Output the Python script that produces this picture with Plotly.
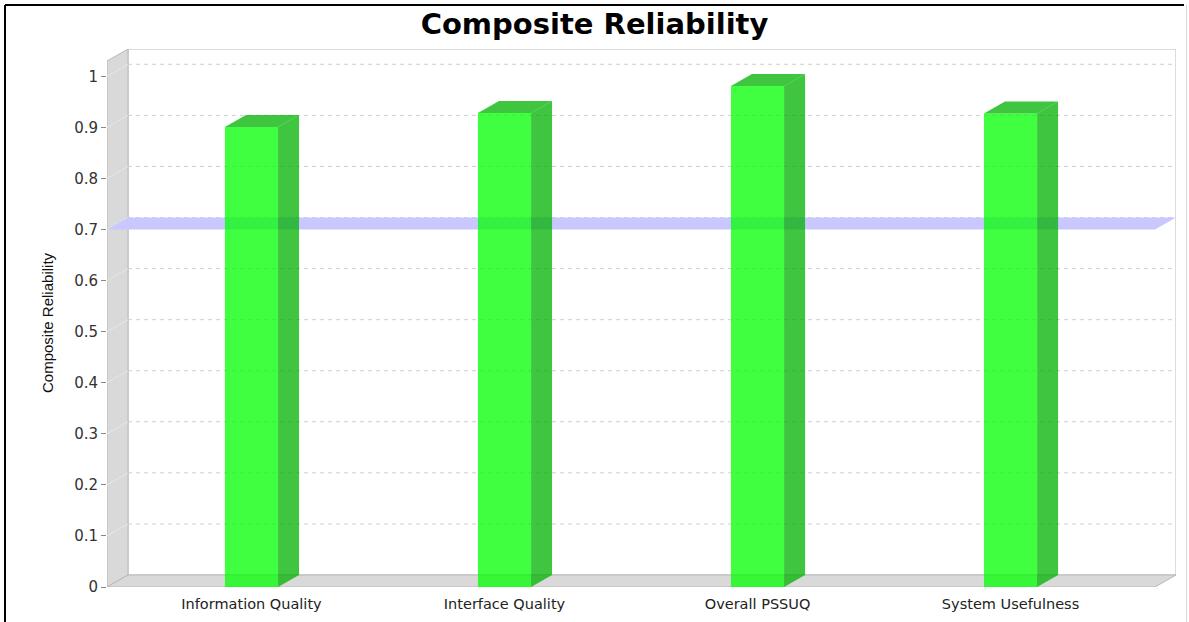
import plotly.graph_objects as go

# ---- data -------------------------------------------------------------
categories = ["Information Quality", "Interface Quality", "Overall PSSUQ", "System Usefulness"]
reliability = [0.901, 0.928, 0.981, 0.927]
threshold = 0.7
y_ticks = [0, 0.1, 0.2, 0.3, 0.4, 0.5, 0.6, 0.7, 0.8, 0.9, 1.0]

# ---- pseudo-3D geometry (data units) ------------------------------------
W, H = 1189, 622
M_L, M_R, M_T, M_B = 107, 13, 49, 35
X_LO, X_HI = -0.571, 3.571          # front plane of the category axis
Y_MAX = 1.03                         # top of the front plane of the value axis
DX, DY = 0.083, 0.0235               # depth offset of the back wall
BAR_W = 0.21

FRONT = "rgba(0,255,0,0.75)"
SHADE = "rgba(0,178,0,0.75)"
WALL = "#d9d9d9"
EDGE = "#b9b9b9"

xs = list(range(len(categories)))

fig = go.Figure()

# front faces of the bars
fig.add_trace(go.Bar(
    x=xs, y=reliability, width=BAR_W,
    marker=dict(color=FRONT, line=dict(width=0)),
    hoverinfo="skip", showlegend=False,
))

# side and top faces of the bars
for xi, v in zip(xs, reliability):
    l, r = xi - BAR_W / 2, xi + BAR_W / 2
    fig.add_trace(go.Scatter(
        x=[r, r + DX, r + DX, r, r], y=[0, DY, v + DY, v, 0],
        fill="toself", fillcolor=SHADE, mode="lines", line=dict(width=0),
        hoverinfo="skip", showlegend=False,
    ))
    fig.add_trace(go.Scatter(
        x=[l, r, r + DX, l + DX, l], y=[v, v, v + DY, v + DY, v],
        fill="toself", fillcolor=SHADE, mode="lines", line=dict(width=0),
        hoverinfo="skip", showlegend=False,
    ))

shapes = []
# back wall
shapes.append(dict(type="rect", xref="x", yref="y", layer="below",
                   x0=X_LO + DX, x1=X_HI + DX, y0=DY, y1=Y_MAX + DY,
                   fillcolor="white", line=dict(color=EDGE, width=1)))
# left wall
shapes.append(dict(type="path", xref="x", yref="y", layer="below",
                   path=f"M{X_LO},0 L{X_LO},{Y_MAX} L{X_LO + DX},{Y_MAX + DY} L{X_LO + DX},{DY} Z",
                   fillcolor=WALL, line=dict(color=EDGE, width=1)))
# floor
shapes.append(dict(type="path", xref="x", yref="y", layer="below",
                   path=f"M{X_LO},0 L{X_HI},0 L{X_HI + DX},{DY} L{X_LO + DX},{DY} Z",
                   fillcolor=WALL, line=dict(color=EDGE, width=1)))
# gridlines on the back wall and the left wall
for t in y_ticks[1:]:
    shapes.append(dict(type="line", xref="x", yref="y", layer="below",
                       x0=X_LO + DX, x1=X_HI + DX, y0=t + DY, y1=t + DY,
                       line=dict(color="#cfcfcf", width=1, dash="4px,4px")))
    shapes.append(dict(type="line", xref="x", yref="y", layer="below",
                       x0=X_LO, x1=X_LO + DX, y0=t, y1=t + DY,
                       line=dict(color="#e6e6e6", width=1)))
# threshold band
shapes.append(dict(type="path", xref="x", yref="y", layer="below",
                   path=(f"M{X_LO},{threshold} L{X_HI},{threshold} "
                         f"L{X_HI + DX},{threshold + DY} L{X_LO + DX},{threshold + DY} Z"),
                   fillcolor="rgb(200,200,255)", line=dict(width=0)))


# outer frame of the chart image (pixel -> paper helpers)
def px(xp):
    return (xp - M_L) / (W - M_L - M_R)


def py(yp):
    return 1 - (yp - M_T) / (H - M_T - M_B)


shapes.append(dict(type="line", xref="paper", yref="paper", x0=px(5), x1=px(5), y0=py(5), y1=py(640),
                   line=dict(color="black", width=2)))
shapes.append(dict(type="line", xref="paper", yref="paper", x0=px(5), x1=px(1184), y0=py(5), y1=py(5),
                   line=dict(color="black", width=2)))
shapes.append(dict(type="line", xref="paper", yref="paper", x0=px(1186.5), x1=px(1186.5), y0=py(5), y1=py(640),
                   line=dict(color="#d8d8d8", width=1)))

fig.update_layout(
    width=W, height=H,
    margin=dict(l=M_L, r=M_R, t=M_T, b=M_B, autoexpand=False),
    paper_bgcolor="white", plot_bgcolor="white",
    showlegend=False,
    shapes=shapes,
    title=dict(text="<b>Composite Reliability</b>", x=0.5, xref="container", xanchor="center",
               y=1 - 24 / H, yref="container", yanchor="middle",
               font=dict(family="DejaVu Sans", size=29, color="black")),
    xaxis=dict(range=[X_LO, X_HI + DX], tickmode="array", tickvals=xs, ticktext=categories,
               showgrid=False, zeroline=False, showline=False, automargin=False,
               ticks="outside", ticklen=4, tickcolor="rgba(0,0,0,0)",
               tickfont=dict(family="DejaVu Sans", size=14.5, color="#222222"), fixedrange=True),
    yaxis=dict(range=[0, Y_MAX + DY], tickmode="array", tickvals=y_ticks,
               ticktext=[f"{t:g}" for t in y_ticks],
               showgrid=False, zeroline=False, showline=False, automargin=False,
               ticks="outside", ticklen=5, tickcolor="#888888",
               tickfont=dict(family="DejaVu Sans", size=15, color="#333333"), fixedrange=True),
    annotations=[dict(text="Composite Reliability", textangle=-90, showarrow=False,
                      xref="paper", yref="paper", x=px(47), y=py(323),
                      xanchor="center", yanchor="middle",
                      font=dict(family="Liberation Sans", size=15, color="#111111"))],
)

fig.write_html("out.html")
